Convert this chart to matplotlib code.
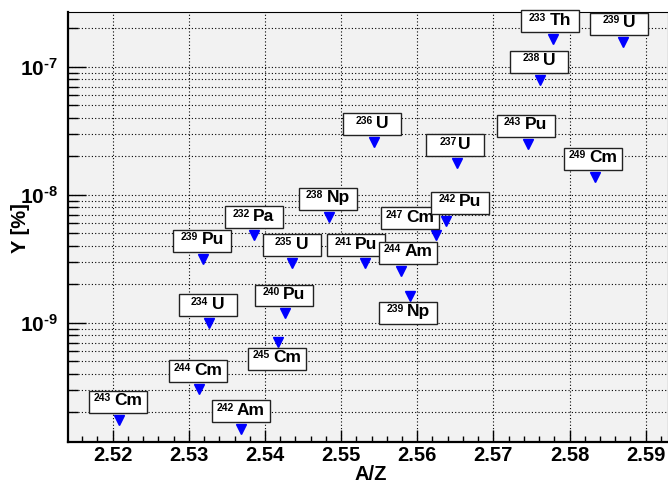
import numpy as np
import matplotlib
matplotlib.use('Agg')
import matplotlib.pyplot as plt
from matplotlib.ticker import FixedLocator, NullFormatter, FuncFormatter
from matplotlib.offsetbox import DrawingArea, AnnotationBbox, TextArea, HPacker
from matplotlib.patches import Rectangle

plt.rcParams['font.family'] = 'Liberation Sans'
plt.rcParams['font.weight'] = 'bold'
plt.rcParams['mathtext.fontset'] = 'custom'
plt.rcParams['mathtext.rm'] = 'Liberation Sans'
plt.rcParams['mathtext.bf'] = 'Liberation Sans:bold'
plt.rcParams['mathtext.it'] = 'Liberation Sans:italic'

# nuclide : mass number, symbol, A/Z, yield [%]
mass = [243, 244, 239, 234, 242, 232, 245, 240, 235, 238, 241,
        236, 244, 239, 247, 242, 237, 243, 238, 233, 249, 239]
symbol = ['Cm', 'Cm', 'Pu', 'U', 'Am', 'Pa', 'Cm', 'Pu', 'U', 'Np', 'Pu',
          'U', 'Am', 'Np', 'Cm', 'Pu', 'U', 'Pu', 'U', 'Th', 'Cm', 'U']
a_over_z = [2.5208, 2.5313, 2.5319, 2.5326, 2.5368, 2.5385, 2.5417, 2.5426,
            2.5435, 2.5484, 2.5532, 2.5543, 2.5579, 2.5591, 2.5625, 2.5638,
            2.5652, 2.5745, 2.5761, 2.5778, 2.5833, 2.5870]
yield_pct = [1.74e-10, 3.02e-10, 3.15e-9, 9.9e-10, 1.47e-10, 4.82e-9,
             7.11e-10, 1.18e-9, 2.91e-9, 6.73e-9, 2.91e-9, 2.56e-8,
             2.54e-9, 1.62e-9, 4.84e-9, 6.27e-9, 1.76e-8, 2.49e-8,
             7.87e-8, 1.64e-7, 1.38e-8, 1.57e-7]
# where each label box sits relative to its marker (pixels)
label_offsets = [(-1, 18), (-1, 18), (-1, 18), (-1, 18), (0, 18), (0, 18),
                 (-1, -17), (-1, 18), (0, 18), (-1, 18), (-9.5, 18),
                 (-2, 18), (7, 18), (-2, -17), (-26, 17), (14, 18),
                 (-1.5, 18), (-2, 18), (-1, 18), (-3, 18), (-2, 18), (-4, 18)]

fig = plt.figure(figsize=(6.68, 4.82), dpi=100)
ax = fig.add_axes([68/668, 1-442/482, 600/668, 430/482])
ax.set_facecolor('#f2f2f2')
ax.set_yscale('log')
ax.set_xlim(2.51413, 2.59293)
ax.set_ylim(1.169e-10, 2.674e-7)

ax.plot(a_over_z, yield_pct, linestyle='none', marker='v', markersize=7.2,
        color='#0000ff', zorder=3)

# boxed nuclide names: fixed size box, small mass number + bold symbol
box_w, box_h = 41.8, 15.8
for i, (A, sym, x, y, (dx, dy)) in enumerate(zip(mass, symbol, a_over_z, yield_pct, label_offsets)):
    z = 4 + 0.01*i
    da = DrawingArea(box_w, box_h, 0, 0, clip=False)
    da.add_artist(Rectangle((0, 0), box_w, box_h, facecolor='white',
                            edgecolor='#222222', linewidth=1.0))
    ab = AnnotationBbox(da, (x, y), xybox=(dx, dy), xycoords='data',
                        boxcoords='offset pixels', box_alignment=(0.5, 0.5),
                        frameon=False, pad=0, zorder=z)
    ax.add_artist(ab)
    sep = 0.5 if (A == 237 and sym == 'U') else 2.5
    txt = HPacker(children=[TextArea(str(A), textprops=dict(fontsize=7.5, fontweight='bold')),
                            TextArea(sym, textprops=dict(fontsize=12.5, fontweight='bold'))],
                  align='top', pad=0, sep=sep)
    at = AnnotationBbox(txt, (x, y), xybox=(dx, dy + 1), xycoords='data',
                        boxcoords='offset pixels', box_alignment=(0.5, 0.5),
                        frameon=False, pad=0, zorder=z + 0.005)
    ax.add_artist(at)

# axes styling
ax.xaxis.set_major_locator(FixedLocator(np.arange(2.52, 2.5901, 0.01)))
ax.xaxis.set_minor_locator(FixedLocator(np.arange(2.516, 2.5931, 0.002)))
ax.xaxis.set_major_formatter(FuncFormatter(lambda v, p: '%.2f' % v))
decades = [1e-10, 1e-9, 1e-8, 1e-7]
ax.yaxis.set_major_locator(FixedLocator(decades[1:]))
minor_y = [m * d for d in decades for m in range(2, 10)]
ax.yaxis.set_minor_locator(FixedLocator(minor_y))
ax.yaxis.set_major_formatter(FuncFormatter(
    lambda v, p: '$\\mathbf{10^{\u2010%d}}$' % -int(round(np.log10(v)))))
ax.yaxis.set_minor_formatter(NullFormatter())

ax.tick_params(which='both', direction='in', width=1.0, color='black',
               top=False, right=False)
ax.tick_params(axis='x', which='major', length=8.6, labelsize=14.5, pad=3)
ax.tick_params(axis='x', which='minor', length=4.3)
ax.tick_params(axis='y', which='major', length=13, labelsize=15, pad=7)
ax.tick_params(axis='y', which='minor', length=7.2)

ax.grid(True, which='major', axis='x', color='black', linestyle=(0, (1, 2)), linewidth=0.8)
ax.grid(True, which='both', axis='y', color='black', linestyle=(0, (1, 2)), linewidth=0.8)
ax.set_axisbelow(True)

for side in ['left', 'bottom']:
    ax.spines[side].set_linewidth(1.6)
for side in ['top', 'right']:
    ax.spines[side].set_linewidth(0.8)

fig.text(371/668, 1-474/482, 'A/Z', ha='center', va='center', fontsize=14.5, fontweight='bold')
fig.text(21/668, 1-228/482, 'Y [%]', ha='center', va='center', rotation=90,
         fontsize=14.5, fontweight='bold')

fig.savefig('out.png', dpi=100)
